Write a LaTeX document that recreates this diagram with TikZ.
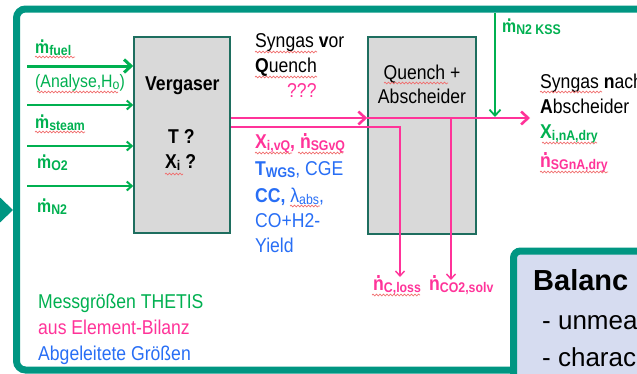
\documentclass[tikz,border=0pt]{standalone}
\usepackage{fontspec}
\setmainfont[FakeStretch=0.88]{Liberation Sans}
\newfontfamily\plainsans{Liberation Sans}
\usetikzlibrary{arrows.meta,decorations.pathmorphing}
\definecolor{frameteal}{RGB}{0,150,130}
\definecolor{boxedge}{RGB}{30,110,95}
\definecolor{boxgray}{RGB}{217,217,217}
\definecolor{mgreen}{RGB}{0,176,80}
\definecolor{mpink}{RGB}{255,51,153}
\definecolor{mblue}{RGB}{40,110,245}
\definecolor{lavender}{RGB}{214,220,240}
\definecolor{spellred}{RGB}{240,110,110}
\newcommand\fsz[1]{\fontsize{#1}{#1}\selectfont}
\newcommand\lsub[1]{\raisebox{-2.2pt}{\fsz{14}#1}}
\newcommand\dotover[1]{\leavevmode\setbox0\hbox{#1}\hbox to \wd0{\hss\raisebox{0.6em}{.}\hss}\kern-\wd0\box0}
\begin{document}
\begin{tikzpicture}[x=1pt,y=-1pt,
  txt/.style={anchor=base west,inner sep=0pt,font=\fsz{20}},
  ctxt/.style={anchor=base,inner sep=0pt,font=\fsz{20}},
  procbox/.style={draw=boxedge,fill=boxgray,line width=1.5pt,inner sep=0pt},
  bigtip/.style={-{Straight Barb[length=7pt,width=13pt]}},
  smalltip/.style={-{Straight Barb[length=5pt,width=9pt]}},
  greenthick/.style={mgreen,line width=3pt,bigtip},
  greenthin/.style={mgreen,line width=2pt,smalltip},
  pinkthick/.style={mpink,line width=2.6pt,bigtip},
  pinkthin/.style={mpink,line width=1.4pt,smalltip},
  wavy/.style={spellred,line width=0.7pt,decorate,decoration={snake,segment length=3.5pt,amplitude=0.9pt}}]
\useasboundingbox (0,0) rectangle (637,373);
\begin{scope}
\clip (0,0) rectangle (637,373);
\draw[frameteal,line width=7pt,rounded corners=9pt] (16.5,9) rectangle (720,370);
\fill[frameteal] (-12,186) -- (13,210) -- (-12,234) -- cycle;
\end{scope}

% process boxes
\node[procbox,minimum width=96pt,minimum height=196pt] (verg) at (182,135) {};
\node[procbox,minimum width=108pt,minimum height=197pt] (quench) at (422,135.5) {};

% inputs
\coordinate (in1) at (27,66);
\coordinate (in2) at (27,105);
\coordinate (in3) at (27,146);
\coordinate (in4) at (27,186);
\draw[greenthick] (in1) -- (in1 -| verg.west);
\draw[greenthin] (in2) -- (in2 -| verg.west);
\draw[greenthin] (in3) -- (in3 -| verg.west);
\draw[greenthin] (in4) -- (in4 -| verg.west);

% syngas line
\coordinate (sgy) at (0,118);
\coordinate (outend) at (530,118);
\coordinate (lossy) at (0,127);
\coordinate (closs) at (400,277);
\coordinate (co2top) at (451,119);
\coordinate (co2end) at (451,280);
\coordinate (kss) at (495,13);
\draw[pinkthin] (verg.east |- lossy) -| (closs);
\draw[pinkthin] (co2top) -- (co2end);
\draw[pinkthick] (verg.east |- sgy) -- (quench.west |- sgy);
\draw[pinkthick] (quench.west |- sgy) -- (outend);
\draw[mgreen,line width=1.8pt,-{Straight Barb[length=6pt,width=11pt]}] (kss) -- (kss |- 0,117);

% input labels
\node[txt,text=mgreen,font=\fsz{18}\bfseries] (lfuel) at (35,53) {\dotover{m}\lsub{fuel}};
\node[txt,text=mgreen,font=\fsz{18}] (lanal) at (35,87) {(Analyse,H\lsub{o})};
\node[txt,text=mgreen,font=\fsz{18}\bfseries] (lsteam) at (35,128) {\dotover{m}\lsub{steam}};
\node[txt,text=mgreen,font=\fsz{18}\bfseries] (lo2) at (37,168) {\dotover{m}\lsub{O2}};
\node[txt,text=mgreen,font=\fsz{18}\bfseries] (ln2) at (37,212) {\dotover{m}\lsub{N2}};

% gasifier text
\node[txt,font=\fsz{20}\bfseries] (vlab) at (145,90) {Vergaser};
\node[txt,font=\fsz{20}\bfseries] (tq) at (168,143) {T ?};
\node[txt,font=\fsz{20}\bfseries] (xq) at (165,168) {X\lsub{i} ?};

% syngas before quench
\node[txt] (sv1) at (255,47) {Syngas \textbf{v}or};
\node[txt] (sv2) at (255,72) {\textbf{Q}uench};
\node[txt,text=mpink] (sv3) at (287,97) {???};

% quench box text
\node[ctxt] (q1) at (422,79) {Quench +};
\node[ctxt] (q2) at (422,103) {Abscheider};

% N2 KSS
\node[txt,text=mgreen,font=\fsz{18}\bfseries] (lkss) at (502,32) {\dotover{m}\lsub{N2 KSS}};

% syngas after separator
\node[txt] (sn1) at (540,88) {Syngas \textbf{n}ach};
\node[txt] (sn2) at (540,113) {\textbf{A}bscheider};
\node[txt,text=mgreen,font=\fsz{20}\bfseries] (sn3) at (540,138) {X\lsub{i,nA,dry}};
\node[txt,text=mpink,font=\fsz{20}\bfseries] (sn4) at (540,167) {\dotover{n}\lsub{SGnA,dry}};

% derived quantities
\node[txt,text=mpink,font=\fsz{20}\bfseries] (d1) at (255,148) {X\lsub{i,vQ}, \dotover{n}\lsub{SGvQ}};
\node[txt,text=mblue] (d2) at (255,175) {\textbf{T\lsub{WGS}}, CGE};
\node[txt,text=mblue] (d3) at (255,202) {\textbf{CC,} λ\lsub{abs},};
\node[txt,text=mblue] (d4) at (255,227) {CO+H2-};
\node[txt,text=mblue] (d5) at (255,252) {Yield};

% losses
\node[txt,text=mpink,font=\fsz{20}\bfseries] (lc) at (373,290) {\dotover{n}\lsub{C,loss}};
\node[txt,text=mpink,font=\fsz{20}\bfseries] (lco2) at (429,290) {\dotover{n}\lsub{CO2,solv}};

% legend
\node[txt,text=mgreen] (g1) at (38,308) {Messgrößen THETIS};
\node[txt,text=mpink] (g2) at (38,334) {aus Element-Bilanz};
\node[txt,text=mblue] (g3) at (38,360) {Abgeleitete Größen};

% spell-check underlines
\draw[wavy] (35,57) -- (75,57);
\draw[wavy] (37,92) -- (118,92);
\draw[wavy] (35,132) -- (85,132);
\draw[wavy] (165,174) -- (183,174);
\draw[wavy] (255,52) -- (317,52);
\draw[wavy] (255,77) -- (317,77);
\draw[wavy] (384,83) -- (448,83);
\draw[wavy] (255,153) -- (292,153);
\draw[wavy] (298,153) -- (343,153);
\draw[wavy] (290,206) -- (320,206);
\draw[wavy] (540,92) -- (602,92);
\draw[wavy] (542,143) -- (597,143);
\draw[wavy] (540,172) -- (608,172);
\draw[wavy] (372,295) -- (420,295);

% balance box
\begin{scope}
\clip (0,0) rectangle (637,373);
\draw[frameteal,fill=lavender,line width=7pt,rounded corners=7pt] (513.5,251) rectangle (720,420);
\node[txt,font=\plainsans\fsz{29}\bfseries] (b1) at (533,290) {Balanc};
\node[txt,font=\plainsans\fsz{26}] (b2) at (542,329) {- unmea};
\node[txt,font=\plainsans\fsz{26}] (b3) at (542,366) {- charac};
\end{scope}
\end{tikzpicture}
\end{document}
